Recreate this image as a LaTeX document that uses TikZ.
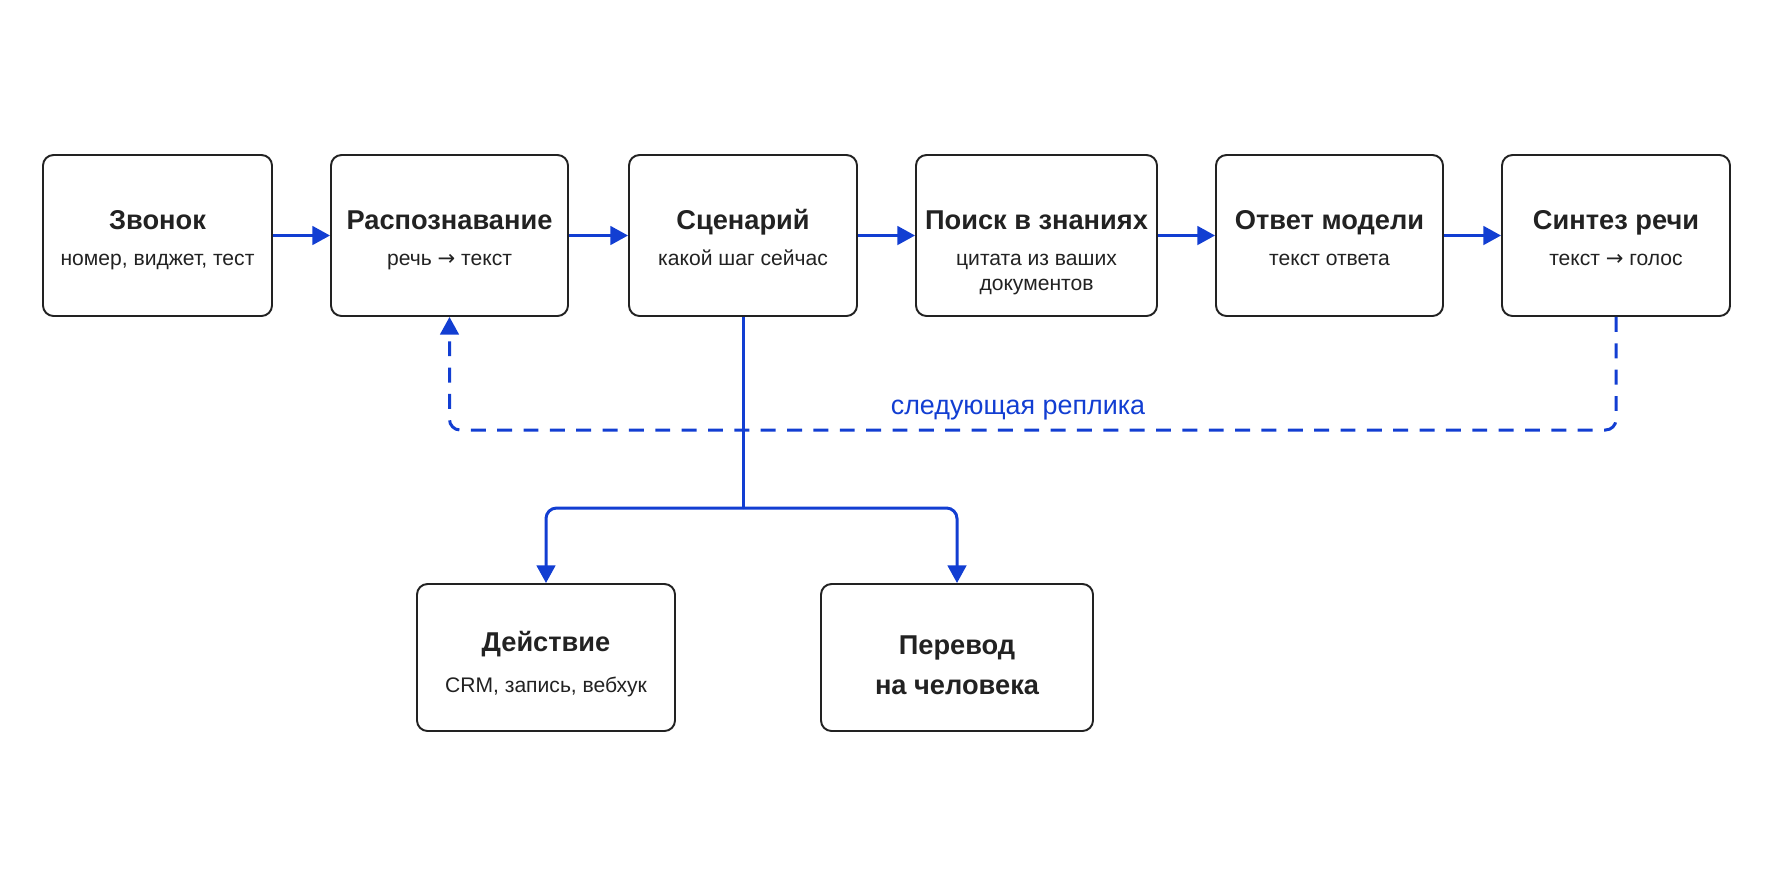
\documentclass[tikz,border=0pt]{standalone}
\usepackage{fontspec}
\setmainfont{Liberation Sans}
\newfontfamily\symfont{DejaVu Sans}
\usetikzlibrary{arrows.meta,calc}
\definecolor{flow}{RGB}{18,62,210}
\definecolor{ink}{RGB}{34,34,34}
\begin{document}
\begin{tikzpicture}[x=0.02cm,y=-0.02cm,
  box/.style={draw=ink, line width=1.1pt, rounded corners=6pt, fill=white, inner sep=0pt},
  ttl/.style={text=ink, font=\fontsize{15.5}{22.5}\selectfont\bfseries, anchor=base, inner sep=0pt},
  sub/.style={text=ink, font=\fontsize{12}{14}\selectfont, anchor=base, inner sep=0pt},
  lbl/.style={text=flow, font=\fontsize{15.3}{17}\selectfont, anchor=base, inner sep=0pt},
  flowline/.style={draw=flow, line width=1.7pt},
  arr/.style={flowline, -{Triangle[length=10pt,width=10.5pt]}},
  dashflow/.style={draw=flow, line width=1.7pt, dash pattern=on 8.5pt off 6.5pt, -{Triangle[length=10pt,width=10.5pt]}}
]
\useasboundingbox (0,0) rectangle (1774,887);

% top row
\node[box, minimum width=229*0.02cm, minimum height=161*0.02cm] (zv) at (157.5,235.5) {};
\node[ttl] (zvt) at ($(zv.north)+(0,75)$) {Звонок};
\node[sub] (zvs) at ($(zv.north)+(0,111)$) {номер, виджет, тест};

\node[box, minimum width=237*0.02cm, minimum height=161*0.02cm] (ra) at (449.5,235.5) {};
\node[ttl] (rat) at ($(ra.north)+(0,75)$) {Распознавание};
\node[sub] (ras) at ($(ra.north)+(0,111)$) {речь {\symfont →} текст};

\node[box, minimum width=228*0.02cm, minimum height=161*0.02cm] (sc) at (743,235.5) {};
\node[ttl] (sct) at ($(sc.north)+(0,75)$) {Сценарий};
\node[sub] (scs) at ($(sc.north)+(0,111)$) {какой шаг сейчас};

\node[box, minimum width=241*0.02cm, minimum height=161*0.02cm] (po) at (1036.5,235.5) {};
\node[ttl] (pot) at ($(po.north)+(0,75)$) {Поиск в знаниях};
\node[sub] (pos) at ($(po.north)+(0,111)$) {цитата из ваших};
\node[sub] (pos2) at ($(po.north)+(0,136)$) {документов};

\node[box, minimum width=227*0.02cm, minimum height=161*0.02cm] (ot) at (1329.5,235.5) {};
\node[ttl] (ott) at ($(ot.north)+(0,75)$) {Ответ модели};
\node[sub] (ots) at ($(ot.north)+(0,111)$) {текст ответа};

\node[box, minimum width=228*0.02cm, minimum height=161*0.02cm] (si) at (1616,235.5) {};
\node[ttl] (sit) at ($(si.north)+(0,75)$) {Синтез речи};
\node[sub] (sis) at ($(si.north)+(0,111)$) {текст {\symfont →} голос};

% bottom row
\node[box, minimum width=258*0.02cm, minimum height=147*0.02cm] (de) at (546,657.5) {};
\node[ttl] (det) at ($(de.north)+(0,68)$) {Действие};
\node[sub] (des) at ($(de.north)+(0,109)$) {CRM, запись, вебхук};

\node[box, minimum width=272*0.02cm, minimum height=147*0.02cm] (pe) at (957,657.5) {};
\node[ttl] (pet) at ($(pe.north)+(0,71)$) {Перевод};
\node[ttl] (pet2) at ($(pe.north)+(0,111)$) {на человека};

% main flow
\draw[arr] (zv.east) -- (ra.west);
\draw[arr] (ra.east) -- (sc.west);
\draw[arr] (sc.east) -- (po.west);
\draw[arr] (po.east) -- (ot.west);
\draw[arr] (ot.east) -- (si.west);

% branch
\coordinate (br) at (743,508);
\draw[flowline] (sc.south) -- (br);
\draw[arr, rounded corners=6pt] (br) -| (de.north);
\draw[arr, rounded corners=6pt] (br) -| (pe.north);

% loop back
\coordinate (loopy) at (0,430);
\draw[dashflow, rounded corners=6pt] (si.south) -- (si.south |- loopy) -- (ra.south |- loopy) -- (ra.south);
\node[lbl] (nx) at (1018,414) {следующая реплика};
\end{tikzpicture}
\end{document}
